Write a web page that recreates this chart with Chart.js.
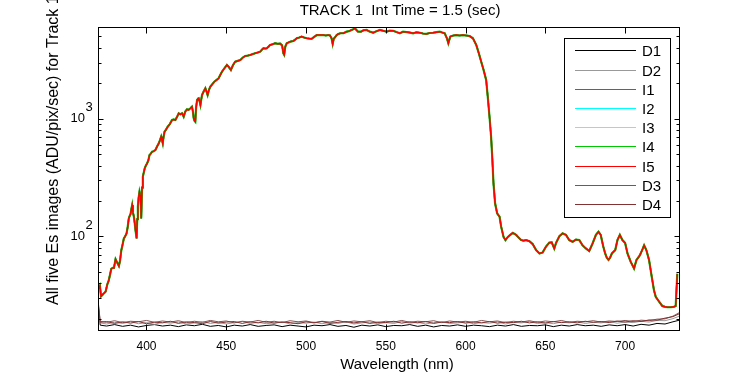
<!DOCTYPE html>
<html>
<head>
<meta charset="utf-8">
<script src="https://cdn.jsdelivr.net/npm/chart.js@4/dist/chart.umd.min.js"></script>
<style>
  html, body { margin: 0; padding: 0; background: #fff; }
  #c { display: block; }
</style>
</head>
<body>
<canvas id="c" width="750" height="375"></canvas>
<script>
// Spectrum plot: five lit Es channels (I1..I5) and four dark channels (D1..D4), log y axis.

const titleText = "TRACK 1  Int Time = 1.5 (sec)";
const xLabelText = "Wavelength (nm)";
const yLabelText = "All five Es images (ADU/pix/sec) for Track 1";

const seriesLabels = ["D1", "D2", "I1", "I2", "I3", "I4", "I5", "D3", "D4"];
const seriesColors = ["#000000", "#999999", "#1e6fdc", "#00ffff", "#8cee8c", "#00c800", "#ff0000", "#825252", "#823232"];

const xTickValues = [400, 450, 500, 550, 600, 650, 700];
const yMajorTicks = [100, 1000];
const yTickBase = "10";
const yTickExps = ["2", "3"];
const yMinorTicks = [20, 30, 40, 50, 60, 70, 80, 90, 200, 300, 400, 500, 600, 700, 800, 900, 2000, 3000, 4000, 5000];

const X_MIN = 369.6, X_MAX = 734.4;
const Y_MIN = 15.7, Y_MAX = 6020;

// lit channels (I1..I5 lie on top of each other in the picture)
const litNm = [
  370.0, 370.8, 371.5, 372.5, 373.5, 374.4, 375.4, 376.3, 377.1, 377.9,
  378.8, 379.6, 380.6, 381.6, 382.7, 383.4, 384.2, 385.0, 385.8, 386.6,
  387.5, 388.2, 388.9, 389.5, 390.0, 390.5, 391.0, 391.5, 392.1, 392.6,
  393.1, 393.8, 394.2, 394.6, 395.1, 395.6, 396.0, 396.3, 396.7, 397.2,
  397.7, 398.3, 398.9, 399.6, 400.4, 401.2, 401.9, 402.7, 403.5, 404.5,
  405.6, 406.6, 407.7, 408.5, 409.2, 409.7, 410.2, 410.7, 411.3, 412.3,
  413.3, 414.6, 416.0, 417.0, 418.1, 419.2, 420.2, 421.2, 422.3, 423.3,
  424.3, 425.4, 426.4, 427.5, 428.5, 429.1, 429.6, 430.1, 430.6, 431.1,
  431.7, 432.2, 432.7, 433.2, 433.8, 434.3, 434.8, 435.8, 436.9, 437.6,
  438.3, 439.1, 440.0, 441.2, 442.5, 443.8, 445.2, 446.2, 447.3, 448.8,
  450.4, 451.6, 452.9, 454.2, 455.6, 457.1, 458.8, 460.3, 461.9, 463.5,
  465.0, 466.5, 468.1, 469.7, 471.3, 472.3, 473.3, 474.4, 475.4, 476.5,
  477.5, 479.0, 480.6, 482.2, 483.8, 485.0, 485.8, 486.3, 487.0, 487.9,
  489.0, 490.0, 491.0, 492.1, 493.2, 494.2, 495.7, 497.3, 498.8, 500.4,
  502.0, 503.5, 505.0, 506.7, 508.7, 510.8, 512.4, 513.9, 515.0, 516.0,
  516.7, 517.4, 518.1, 519.2, 520.2, 521.5, 523.5, 525.4, 527.0, 528.5,
  529.5, 530.6, 532.5, 534.4, 536.0, 537.9, 540.0, 542.1, 544.2, 546.3,
  548.3, 550.4, 552.5, 554.6, 556.7, 558.8, 560.8, 563.0, 565.0, 567.1,
  569.2, 571.3, 573.3, 575.4, 577.5, 579.6, 581.7, 583.8, 585.3, 586.9,
  588.3, 589.2, 590.4, 592.3, 594.2, 596.2, 598.3, 600.4, 602.5, 604.6,
  606.7, 608.3, 609.8, 611.3, 612.9, 613.9, 615.0, 616.0, 616.7, 617.5,
  618.5, 619.8, 621.3, 622.3, 623.8, 625.0, 626.5, 628.0, 629.6, 631.7,
  633.2, 634.8, 636.3, 637.9, 640.0, 642.1, 644.2, 646.3, 648.3, 650.4,
  652.5, 654.0, 655.6, 656.7, 658.8, 660.8, 662.9, 665.0, 667.1, 669.2,
  671.3, 673.3, 675.4, 677.5, 679.6, 681.7, 683.3, 684.7, 686.3, 687.5,
  688.5, 689.6, 690.6, 691.7, 693.8, 695.2, 696.7, 698.3, 700.0, 701.5,
  703.5, 705.6, 707.1, 709.2, 710.6, 711.9, 713.3, 715.0, 716.7, 718.1,
  719.2, 721.3, 723.3, 725.0, 726.5, 728.5, 730.5, 731.7, 732.7
];
const litValues = [
  36, 38, 31, 32, 33, 34, 39, 42, 47, 53,
  54, 54, 64, 60, 56, 62, 76, 85, 96, 100,
  106, 120, 142, 150, 155, 170, 184, 160, 147, 130,
  113, 96, 140, 179, 215, 239, 225, 217, 142, 260,
  321, 350, 379, 400, 418, 445, 491, 505, 524, 530,
  542, 580, 618, 660, 703, 660, 618, 700, 775, 810,
  855, 900, 975, 985, 975, 1040, 1112, 1090, 1112, 1040,
  1150, 1202, 1190, 1226, 1265, 1150, 1008, 960, 943, 1250,
  1442, 1480, 1491, 1420, 1308, 1450, 1590, 1700, 1813, 1700,
  1590, 1750, 1872, 1960, 2063, 2130, 2206, 2350, 2510, 2680,
  2861, 2750, 2597, 2850, 3054, 3100, 3157, 3300, 3417, 3440,
  3478, 3540, 3600, 3650, 3716, 3850, 3971, 3950, 3971, 4100,
  4233, 4300, 4380, 4330, 4350, 4200, 3600, 3500, 4100, 4380,
  4450, 4516, 4550, 4580, 4700, 4828, 4900, 4986, 4900, 4828,
  4800, 4780, 4950, 5143, 5143, 5143, 5100, 5143, 5100, 4828,
  4318, 4800, 4900, 5143, 5245, 5326, 5326, 5495, 5550, 5682,
  5750, 5870, 5500, 5495, 5650, 5682, 5500, 5382, 5550, 5682,
  5600, 5495, 5600, 5590, 5450, 5326, 5495, 5450, 5400, 5326,
  5420, 5382, 5300, 5260, 5350, 5382, 5440, 5495, 5400, 5326,
  4828, 4380, 5000, 5100, 5143, 5100, 5143, 5100, 5043, 4828,
  4233, 3600, 3054, 2597, 2135, 1539, 1040, 703, 475, 282,
  191, 157, 147, 121, 99, 93, 99, 103, 107, 103,
  98, 93, 92, 93, 91, 86, 76.5, 71.6, 73, 81.8,
  88.5, 89, 78.9, 88, 100.4, 106, 103, 93, 90, 94,
  93, 84, 79, 75, 87, 103, 109.5, 103, 82, 71.6,
  66, 63.2, 66, 71.6, 76.5, 93, 103, 93, 88, 71.6,
  60.9, 53.4, 63, 69, 76, 84, 76.5, 63, 45.3, 34.8,
  30.6, 27.9, 25.6, 25.2, 25, 25, 25.2, 25.6, 48
];

// dark channels
const darkNm = [
  370, 371, 375, 380, 385, 390, 395, 400, 405, 410,
  415, 420, 425, 430, 435, 440, 445, 450, 455, 460,
  465, 470, 475, 480, 485, 490, 495, 500, 505, 510,
  515, 520, 525, 530, 535, 540, 545, 550, 555, 560,
  565, 570, 575, 580, 585, 590, 595, 600, 605, 610,
  615, 620, 625, 630, 635, 640, 645, 650, 655, 660,
  665, 670, 675, 680, 685, 690, 695, 700, 705, 710,
  715, 720, 725, 730, 734
];
const d1Values = [
  24, 17.6, 17.3, 17.8, 17.2, 17.6, 17.0, 17.5, 17.8, 17.3,
  17.6, 17.1, 17.7, 17.4, 17.9, 17.2, 17.5, 17.0, 17.6, 17.3,
  17.8, 17.2, 17.5, 17.7, 17.1, 17.6, 17.3, 17.0, 17.6, 17.4,
  17.8, 17.2, 17.5, 16.9, 17.6, 17.3, 17.7, 17.1, 17.5, 17.4,
  17.8, 17.2, 17.6, 17.0, 17.5, 17.3, 17.7, 17.2, 17.6, 17.4,
  17.1, 17.6, 17.3, 17.8, 17.2, 17.5, 17.4, 17.7, 17.1, 17.6,
  17.3, 17.8, 17.4, 17.6, 17.2, 17.7, 17.4, 17.8, 17.3, 17.9,
  17.6, 18.2, 18.0, 18.8, 19.4
];
const d2Values = [
  22, 18.4, 18.0, 18.6, 18.2, 18.8, 18.1, 18.5, 17.9, 18.6,
  18.3, 18.7, 18.0, 18.4, 18.8, 18.2, 18.6, 18.0, 18.5, 18.9,
  18.2, 18.6, 18.1, 18.4, 18.8, 18.0, 18.5, 18.3, 18.7, 18.1,
  18.6, 18.2, 18.8, 18.0, 18.4, 18.7, 18.1, 18.5, 18.2, 18.9,
  18.3, 18.6, 18.0, 18.5, 18.8, 18.2, 18.4, 18.7, 18.1, 18.5,
  18.3, 18.8, 18.0, 18.6, 18.4, 18.9, 18.2, 18.5, 18.1, 18.7,
  18.4, 18.8, 18.2, 18.6, 18.4, 18.9, 18.3, 18.7, 18.5, 19.0,
  18.7, 19.3, 19.2, 20.0, 21.0
];
const d3Values = [
  26, 19.0, 18.6, 19.2, 18.5, 19.0, 18.8, 19.3, 18.6, 19.1,
  18.7, 19.2, 18.5, 19.0, 18.6, 19.3, 18.8, 19.1, 18.4, 19.0,
  18.7, 19.3, 18.6, 19.0, 18.5, 19.2, 18.8, 19.1, 18.5, 19.0,
  18.7, 19.3, 18.6, 19.1, 18.8, 19.2, 18.5, 19.0, 18.7, 19.3,
  18.6, 19.0, 18.8, 19.2, 18.5, 19.1, 18.7, 19.0, 18.6, 19.3,
  18.8, 19.1, 18.5, 19.0, 18.7, 19.2, 18.6, 19.1, 18.8, 19.3,
  18.6, 19.0, 18.8, 19.2, 18.7, 19.1, 18.9, 19.3, 18.9, 19.4,
  19.2, 19.8, 19.9, 21.0, 22.5
];
const d4Values = [
  25, 18.6, 18.9, 18.2, 18.8, 18.3, 18.9, 18.1, 18.7, 18.4,
  19.0, 18.2, 18.8, 18.5, 18.1, 18.9, 18.3, 18.7, 18.9, 18.2,
  18.8, 18.4, 19.0, 18.3, 18.7, 18.5, 18.1, 18.8, 18.4, 18.9,
  18.2, 18.6, 18.9, 18.4, 18.8, 18.2, 18.7, 18.5, 19.0, 18.3,
  18.8, 18.4, 18.9, 18.2, 18.7, 18.5, 18.9, 18.3, 18.8, 18.4,
  18.9, 18.3, 18.7, 18.5, 19.0, 18.4, 18.8, 18.3, 18.9, 18.5,
  18.8, 18.4, 19.0, 18.6, 18.9, 18.5, 19.1, 18.7, 19.2, 18.9,
  19.5, 19.4, 20.2, 20.8, 22.0
];

const FONT = '"Liberation Sans", Arial, Helvetica, sans-serif';

function pts(xs, ys) {
  return xs.map((x, i) => ({ x, y: ys[i] }));
}

const seriesData = [
  pts(darkNm, d1Values),
  pts(darkNm, d2Values),
  pts(litNm, litValues),
  pts(litNm, litValues),
  pts(litNm, litValues),
  pts(litNm, litValues),
  pts(litNm, litValues),
  pts(darkNm, d3Values),
  pts(darkNm, d4Values),
];

const datasets = seriesLabels.map((label, i) => ({
  label,
  data: seriesData[i],
  borderColor: seriesColors[i],
  backgroundColor: seriesColors[i],
  borderWidth: label === "I4" ? 2.2 : (label[0] === "I" ? 1.5 : 1),
  pointRadius: 0,
  tension: 0,
  fill: false,
  order: seriesLabels.length - 1 - i, // later series drawn on top, like MATLAB
}));

// MATLAB-style box, inward ticks, tick labels, titles and legend
const framePlugin = {
  id: "matlabFrame",
  afterDraw(chart) {
    const { ctx, chartArea: a, scales: { x, y } } = chart;
    ctx.save();
    ctx.strokeStyle = "#000";
    ctx.fillStyle = "#000";
    ctx.lineWidth = 1;

    const L = a.left + 0.5, R = a.right - 0.5, T = a.top + 0.5, B = a.bottom - 0.5;
    ctx.beginPath();
    xTickValues.forEach((v) => {
      const px = Math.round(x.getPixelForValue(v)) + 0.5;
      ctx.moveTo(px, T); ctx.lineTo(px, T + 6);
      ctx.moveTo(px, B); ctx.lineTo(px, B - 6);
    });
    const yTick = (v, len) => {
      const py = Math.round(y.getPixelForValue(v)) + 0.5;
      ctx.moveTo(L, py); ctx.lineTo(L + len, py);
      ctx.moveTo(R, py); ctx.lineTo(R - len, py);
    };
    yMajorTicks.forEach((v) => yTick(v, 5));
    yMinorTicks.forEach((v) => yTick(v, 3));
    ctx.stroke();
    ctx.strokeRect(L, T, R - L, B - T);

    // x tick labels
    ctx.font = "12px " + FONT;
    ctx.textAlign = "center";
    ctx.textBaseline = "alphabetic";
    xTickValues.forEach((v) => ctx.fillText(String(v), x.getPixelForValue(v), a.bottom + 19));

    // y tick labels 10^n
    ctx.font = "13px " + FONT;
    yMajorTicks.forEach((v, i) => {
      const py = y.getPixelForValue(v);
      ctx.textAlign = "right";
      ctx.fillText(yTickBase, a.left - 13, py + 3.5);
      ctx.textAlign = "left";
      ctx.fillText(yTickExps[i], a.left - 12.5, py - 7.5);
    });

    // title and axis labels
    ctx.font = "15px " + FONT;
    ctx.textAlign = "center";
    ctx.fillText(titleText, 400, 15);
    ctx.fillText(xLabelText, 397, 369);

    ctx.save();
    ctx.font = "16px " + FONT;
    ctx.translate(54, 305);
    ctx.rotate(-Math.PI / 2);
    ctx.textAlign = "left";
    ctx.textBaseline = "middle";
    ctx.fillText(yLabelText, 0, 0);
    ctx.restore();

    // legend
    const lx = 564.5, ly = 38.5, lw = 106, lh = 179;
    ctx.fillStyle = "#fff";
    ctx.fillRect(lx, ly, lw, lh);
    ctx.strokeStyle = "#000";
    ctx.strokeRect(lx, ly, lw, lh);
    ctx.font = "15px " + FONT;
    ctx.textAlign = "left";
    ctx.textBaseline = "alphabetic";
    chart.data.datasets.forEach((ds, i) => {
      const yy = Math.round(50.3 + i * 19.2) + 0.5;
      ctx.strokeStyle = ds.borderColor;
      ctx.beginPath();
      ctx.moveTo(575, yy);
      ctx.lineTo(636, yy);
      ctx.stroke();
      ctx.fillStyle = "#000";
      ctx.fillText(ds.label, 642, yy + 5.5);
    });
    ctx.restore();
  },
};

new Chart(document.getElementById("c"), {
  type: "line",
  data: { datasets },
  options: {
    responsive: false,
    animation: false,
    devicePixelRatio: 1,
    layout: { padding: { top: 27, right: 70, left: 0, bottom: 0 } },
    plugins: {
      legend: { display: false },
      title: { display: false },
      tooltip: { enabled: false },
    },
    scales: {
      x: {
        type: "linear",
        min: X_MIN,
        max: X_MAX,
        grid: { display: false, drawTicks: false },
        border: { display: false },
        ticks: { display: false },
        afterFit: (s) => { s.height = 44; },
      },
      y: {
        type: "logarithmic",
        min: Y_MIN,
        max: Y_MAX,
        grid: { display: false, drawTicks: false },
        border: { display: false },
        ticks: { display: false },
        afterFit: (s) => { s.width = 98; },
      },
    },
  },
  plugins: [framePlugin],
});
</script>
</body>
</html>
